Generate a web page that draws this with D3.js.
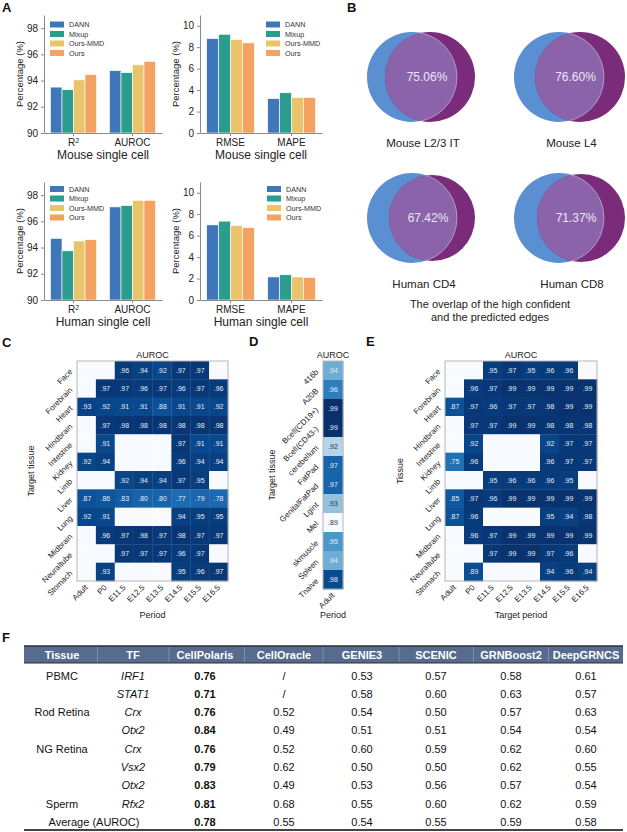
<!DOCTYPE html>
<html>
<head>
<meta charset="utf-8">
<title>CellPolaris figure</title>
<script src="https://cdnjs.cloudflare.com/ajax/libs/d3/7.8.5/d3.min.js"></script>
<style>
  body { margin: 0; background: #fff; }
  svg { font-family: "Liberation Sans", Arial, sans-serif; }
</style>
</head>
<body>
<div id="fig"></div>
<script>
// ---- data ----
var methods = ["DANN", "Mixup", "Ours-MMD", "Ours"];
var methodColors = ["#3f77b9", "#2a9d8f", "#e9c46a", "#f4a261"];
var accMetrics = ["R2", "AUROC"];
var errMetrics = ["RMSE", "MAPE"];

var mouseR2    = [93.5, 93.3, 94.05, 94.45];
var mouseAUROC = [94.75, 94.6, 95.2, 95.45];
var mouseRMSE  = [8.8, 9.2, 8.7, 8.4];
var mouseMAPE  = [3.2, 3.75, 3.3, 3.3];
var humanR2    = [94.7, 93.75, 94.5, 94.6];
var humanAUROC = [97.1, 97.2, 97.6, 97.6];
var humanRMSE  = [7.0, 7.35, 6.95, 6.75];
var humanMAPE  = [2.15, 2.35, 2.15, 2.1];

var vennLabels = ["Mouse L2/3 IT", "Mouse L4", "Human CD4", "Human CD8"];
var vennPct = ["75.06%", "76.60%", "67.42%", "71.37%"];

var tissues = ["Face", "Forebrain", "Heart", "Hindbrain", "Intestine", "Kidney",
               "Limb", "Liver", "Lung", "Midbrain", "Neuraltube", "Stomach"];
var periods = ["Adult", "P0", "E11.5", "E12.5", "E13.5", "E14.5", "E15.5", "E16.5"];

var cAuroc = [
  [null, null, .96, .94, .92, .97, .97, null],
  [null, .97, .97, .96, .97, .96, .97, .96],
  [.93, .92, .91, .91, .88, .91, .91, .92],
  [null, .97, .98, .98, .98, .98, .98, .98],
  [null, .91, null, null, null, .97, .91, .91],
  [.92, .94, null, null, null, .96, .94, .94],
  [null, null, .92, .94, .94, .97, .95, null],
  [.87, .86, .83, .80, .80, .77, .79, .78],
  [.92, .91, null, null, null, .94, .95, .95],
  [null, .96, .97, .98, .97, .98, .97, .97],
  [null, null, .97, .97, .97, .96, .97, null],
  [null, .93, null, null, null, .95, .96, .97]
];

var dTissues = ["416b", "A20B", "Bcell(CD19+)", "Bcell(CD43-)", "cerebellum", "FatPad",
                "GenitalFatPad", "Lgint", "Mel", "skmuscle", "Spleen", "Tnaive"];
var dPeriods = ["Adult"];
var dAuroc = [[.94], [.96], [.99], [.99], [.92], [.97], [.97], [.93], [.89], [.95], [.94], [.98]];

var eAuroc = [
  [null, null, .95, .97, .95, .96, .96, null],
  [null, .96, .97, .99, .99, .99, .99, .99],
  [.87, .97, .96, .97, .97, .98, .99, .99],
  [null, .97, .97, .99, .99, .98, .98, .98],
  [null, .92, null, null, null, .92, .97, .97],
  [.75, .96, null, null, null, .96, .97, .97],
  [null, null, .95, .96, .96, .96, .95, null],
  [.85, .97, .96, .99, .99, .99, .99, .99],
  [.87, .96, null, null, null, .95, .94, .98],
  [null, .96, .97, .99, .99, .99, .99, .99],
  [null, null, .97, .99, .99, .97, .96, null],
  [null, .89, null, null, null, .94, .96, .94]
];

var tableHeader = ["Tissue", "TF", "CellPolaris", "CellOracle", "GENIE3", "SCENIC", "GRNBoost2", "DeepGRNCS"];
var tableRows = [
  ["PBMC", "IRF1", "0.76", "/", "0.53", "0.57", "0.58", "0.61"],
  ["", "STAT1", "0.71", "/", "0.58", "0.60", "0.63", "0.57"],
  ["Rod Retina", "Crx", "0.76", "0.52", "0.54", "0.50", "0.57", "0.63"],
  ["", "Otx2", "0.84", "0.49", "0.51", "0.51", "0.54", "0.54"],
  ["NG Retina", "Crx", "0.76", "0.52", "0.60", "0.59", "0.62", "0.60"],
  ["", "Vsx2", "0.79", "0.62", "0.50", "0.50", "0.62", "0.55"],
  ["", "Otx2", "0.83", "0.49", "0.53", "0.56", "0.57", "0.54"],
  ["Sperm", "Rfx2", "0.81", "0.68", "0.55", "0.60", "0.62", "0.59"]
];
var tableAverage = ["Average (AUROC)", "0.78", "0.55", "0.54", "0.55", "0.59", "0.58"];

// ---- figure ----
var W = 627, H = 832;
var svg = d3.select("#fig").append("svg")
    .attr("width", W)
    .attr("height", H);

function panelLetter(t, x, y) {
  svg.append("text").text(t)
      .attr("x", x).attr("y", y)
      .attr("font-size", 13).attr("font-weight", "bold").attr("fill", "#111");
}
panelLetter("A", 2, 12);
panelLetter("B", 347, 12);
panelLetter("C", 2, 347);
panelLetter("D", 249, 346);
panelLetter("E", 366, 346);
panelLetter("F", 2, 642);

// ---- panel A: grouped bars ----
function barChart(o) {
  var g = svg.append("g").attr("transform", "translate(" + o.x0 + "," + o.y0 + ")");
  var x = d3.scaleBand().domain(o.groups).range([0, o.w]).paddingInner(0.22).paddingOuter(0.11);
  var xi = d3.scaleBand().domain(methods).range([0, x.bandwidth()]);
  var y = d3.scaleLinear().domain(o.domain).range([o.h, 0]);

  o.groups.forEach(function (grp, gi) {
    g.append("g").selectAll("rect")
        .data(o.values[gi])
      .enter().append("rect")
        .attr("x", function (d, i) { return x(grp) + xi(methods[i]); })
        .attr("y", function (d) { return y(d); })
        .attr("width", xi.bandwidth())
        .attr("height", function (d) { return o.h - y(d); })
        .attr("fill", function (d, i) { return methodColors[i]; })
        .attr("stroke", "#fff")
        .attr("stroke-width", 0.6);
  });

  var ya = g.append("g").call(d3.axisLeft(y).tickValues(o.ticks).tickSize(3).tickSizeOuter(0));
  ya.selectAll("text").attr("font-size", 10).attr("fill", "#222");
  ya.selectAll("line, path").attr("stroke", "#8a8a8a");

  var xa = g.append("g").attr("transform", "translate(0," + o.h + ")")
      .call(d3.axisBottom(x).tickSize(3).tickSizeOuter(0)
        .tickFormat(function (d) { return d === "R2" ? "R" : d; }));
  xa.selectAll("text").attr("font-size", 10).attr("fill", "#222");
  xa.selectAll("line, path").attr("stroke", "#8a8a8a");
  xa.selectAll(".tick text").each(function (d) {
    if (d === "R2") {
      d3.select(this).append("tspan").attr("dy", "-0.45em").attr("font-size", "0.7em").text("2");
    }
  });

  g.append("text").text(o.title)
      .attr("x", o.w / 2).attr("y", o.h + 26)
      .attr("text-anchor", "middle").attr("font-size", 12).attr("fill", "#222");
  g.append("text").text("Percentage (%)")
      .attr("transform", "translate(-21," + (o.h / 2) + ") rotate(-90)")
      .attr("text-anchor", "middle").attr("font-size", 9.5).attr("fill", "#222");

  var lg = g.append("g").attr("transform", "translate(" + o.legendX + "," + o.legendY + ")");
  methods.forEach(function (m, i) {
    lg.append("rect").attr("x", 0).attr("y", i * 9.5 - 3)
        .attr("width", 14).attr("height", 6).attr("fill", methodColors[i]);
    lg.append("text").text(m).attr("x", 19).attr("y", i * 9.5 + 2.5)
        .attr("font-size", 7.2).attr("fill", "#333");
  });
}

barChart({x0: 44, y0: 15, w: 118, h: 118, domain: [90, 99], ticks: [90, 92, 94, 96, 98],
  groups: accMetrics, values: [mouseR2, mouseAUROC], title: "Mouse single cell", legendX: 6, legendY: 9.5});
barChart({x0: 200, y0: 15, w: 122, h: 118, domain: [0, 11], ticks: [0, 2, 4, 6, 8, 10],
  groups: errMetrics, values: [mouseRMSE, mouseMAPE], title: "Mouse single cell", legendX: 66, legendY: 9.5});
barChart({x0: 44, y0: 182, w: 118, h: 118, domain: [90, 99], ticks: [90, 92, 94, 96, 98],
  groups: accMetrics, values: [humanR2, humanAUROC], title: "Human single cell", legendX: 6, legendY: 7});
barChart({x0: 200, y0: 182, w: 122, h: 118, domain: [0, 11], ticks: [0, 2, 4, 6, 8, 10],
  groups: errMetrics, values: [humanRMSE, humanMAPE], title: "Human single cell", legendX: 67, legendY: 7});

// ---- panel B: venn overlaps ----
var vennPos = [
  {bx: 412, px: 430, cy: 77, r: 45, pr: 45},
  {bx: 559, px: 580, cy: 77, r: 45, pr: 45},
  {bx: 412, px: 432, cy: 218, r: 45, pr: 43},
  {bx: 559, px: 581, cy: 218, r: 45, pr: 44}
];
var defs = svg.append("defs");
vennPos.forEach(function (p, i) {
  defs.append("clipPath").attr("id", "vclip" + i)
    .append("circle").attr("cx", p.px).attr("cy", p.cy).attr("r", p.pr);
  svg.append("circle").attr("cx", p.bx).attr("cy", p.cy).attr("r", p.r).attr("fill", "#5a8fd1");
  svg.append("circle").attr("cx", p.px).attr("cy", p.cy).attr("r", p.pr).attr("fill", "#7a2b79");
  svg.append("circle").attr("cx", p.bx).attr("cy", p.cy).attr("r", p.r)
      .attr("fill", "#8b63ab").attr("stroke", "#c9b8e0").attr("stroke-width", 0.7)
      .attr("clip-path", "url(#vclip" + i + ")");
  svg.append("text").text(vennPct[i])
      .attr("x", (p.bx + p.px) / 2 + 6).attr("y", p.cy + 4)
      .attr("text-anchor", "middle").attr("font-size", 12).attr("fill", "#ece6f5");
  svg.append("text").text(vennLabels[i])
      .attr("x", (p.bx + p.px) / 2 + 2).attr("y", p.cy + 70)
      .attr("text-anchor", "middle").attr("font-size", 11.5).attr("fill", "#222");
});
svg.append("text").text("The overlap of the high confident")
    .attr("x", 490).attr("y", 308).attr("text-anchor", "middle").attr("font-size", 11).attr("fill", "#222");
svg.append("text").text("and the predicted edges")
    .attr("x", 490).attr("y", 321).attr("text-anchor", "middle").attr("font-size", 11).attr("fill", "#222");

// ---- panels C, D, E: heatmaps ----
var fmt = function (v) { return d3.format(".2f")(v).replace(/^0/, ""); };

function heatmap(o) {
  var g = svg.append("g").attr("transform", "translate(" + o.x0 + "," + o.y0 + ")");
  var x = d3.scaleBand().domain(o.cols).range([0, o.w]);
  var y = d3.scaleBand().domain(o.rows).range([0, o.h]);
  var color = d3.scaleSequential(d3.interpolateBlues).domain(o.domain).clamp(true);
  var cells = [];
  o.rows.forEach(function (r, ri) {
    o.cols.forEach(function (c, ci) {
      cells.push({r: r, c: c, v: o.values[ri][ci]});
    });
  });
  g.selectAll("rect.cell").data(cells).enter().append("rect")
      .attr("x", function (d) { return x(d.c); })
      .attr("y", function (d) { return y(d.r); })
      .attr("width", x.bandwidth() + 0.3)
      .attr("height", y.bandwidth() + 0.3)
      .attr("fill", function (d) { return d.v == null ? color(o.domain[0]) : color(d.v); });
  g.selectAll("text.val").data(cells.filter(function (d) { return d.v != null; })).enter().append("text")
      .attr("x", function (d) { return x(d.c) + x.bandwidth() / 2; })
      .attr("y", function (d) { return y(d.r) + y.bandwidth() / 2 + 2.5; })
      .attr("text-anchor", "middle").attr("font-size", 7)
      .attr("fill", function (d) {
        var t = (d.v - o.domain[0]) / (o.domain[1] - o.domain[0]);
        return t < 0.45 ? "#333" : "#e6ecf5";
      })
      .text(function (d) { return fmt(d.v); });
  g.append("rect").attr("width", o.w).attr("height", o.h)
      .attr("fill", "none").attr("stroke", "#b5b5b5").attr("stroke-width", 1);

  g.selectAll("text.rowlab").data(o.rows).enter().append("text")
      .attr("transform", function (d) {
        return "translate(-4," + (y(d) + y.bandwidth() / 2 + 2) + ") rotate(-45)";
      })
      .attr("text-anchor", "end").attr("font-size", 8).attr("fill", "#222")
      .text(function (d) { return d; });
  g.selectAll("text.collab").data(o.cols).enter().append("text")
      .attr("transform", function (d) {
        return "translate(" + (x(d) + x.bandwidth() / 2 + 2) + "," + (o.h + 7) + ") rotate(-45)";
      })
      .attr("text-anchor", "end").attr("font-size", 8).attr("fill", "#222")
      .text(function (d) { return d; });

  g.append("text").text("AUROC")
      .attr("x", o.w / 2).attr("y", -3)
      .attr("text-anchor", "middle").attr("font-size", 9).attr("fill", "#222");
  g.append("text").text(o.xTitle)
      .attr("x", o.w / 2).attr("y", o.xTitleY)
      .attr("text-anchor", "middle").attr("font-size", 9).attr("fill", "#222");
  g.append("text").text(o.yTitle)
      .attr("transform", "translate(" + o.yTitleX + "," + (o.h / 2) + ") rotate(-90)")
      .attr("text-anchor", "middle").attr("font-size", 9).attr("fill", "#222");
}

heatmap({x0: 77, y0: 361, w: 151, h: 220, rows: tissues, cols: periods, values: cAuroc,
  domain: [0, 1], xTitle: "Period", xTitleY: 257, yTitle: "Target tissue", yTitleX: -43});
heatmap({x0: 323, y0: 361, w: 20, h: 228, rows: dTissues, cols: dPeriods, values: dAuroc,
  domain: [0.89, 0.99], xTitle: "Period", xTitleY: 257, yTitle: "Target tissue", yTitleX: -48});
heatmap({x0: 445, y0: 361, w: 152, h: 220, rows: tissues, cols: periods, values: eAuroc,
  domain: [0, 1], xTitle: "Target period", xTitleY: 257, yTitle: "Tissue", yTitleX: -42});

// ---- panel F: table ----
var colX = [62, 133, 205, 284, 362, 436, 511, 586];
var tLeft = 24, tRight = 623, headTop = 646, headBot = 663;
var rowY = d3.scaleLinear().domain([0, 8]).range([679.5, 826]);

svg.append("rect").attr("x", tLeft).attr("y", headTop)
    .attr("width", tRight - tLeft).attr("height", headBot - headTop).attr("fill", "#566b8e");
svg.append("line").attr("x1", tLeft).attr("x2", tRight).attr("y1", headTop).attr("y2", headTop)
    .attr("stroke", "#2f2f2f").attr("stroke-width", 1.5);
svg.append("line").attr("x1", tLeft).attr("x2", tRight).attr("y1", headBot).attr("y2", headBot)
    .attr("stroke", "#2f2f2f").attr("stroke-width", 1.2);
for (var i = 0; i < colX.length - 1; i++) {
  var sx = (colX[i] + colX[i + 1]) / 2;
  svg.append("line").attr("x1", sx).attr("x2", sx).attr("y1", headTop + 1).attr("y2", headBot - 1)
      .attr("stroke", "#8797b2").attr("stroke-width", 0.8);
}
tableHeader.forEach(function (h, i) {
  svg.append("text").text(h).attr("x", colX[i]).attr("y", headBot - 4.5)
      .attr("text-anchor", "middle").attr("font-size", 11).attr("font-weight", "bold").attr("fill", "#fff");
});
tableRows.forEach(function (row, ri) {
  row.forEach(function (cell, ci) {
    if (!cell) return;
    svg.append("text").text(cell).attr("x", colX[ci]).attr("y", rowY(ri))
        .attr("text-anchor", "middle").attr("font-size", 11).attr("fill", "#111")
        .attr("font-style", ci === 1 ? "italic" : "normal")
        .attr("font-weight", ci === 2 ? "bold" : "normal");
  });
});
svg.append("text").text(tableAverage[0]).attr("x", 94).attr("y", rowY(8))
    .attr("text-anchor", "middle").attr("font-size", 11).attr("fill", "#111");
tableAverage.slice(1).forEach(function (cell, i) {
  svg.append("text").text(cell).attr("x", colX[i + 2]).attr("y", rowY(8))
      .attr("text-anchor", "middle").attr("font-size", 11).attr("fill", "#111")
      .attr("font-weight", i === 0 ? "bold" : "normal");
});
svg.append("line").attr("x1", tLeft).attr("x2", tRight).attr("y1", 830).attr("y2", 830)
    .attr("stroke", "#444").attr("stroke-width", 2);
</script>
</body>
</html>
